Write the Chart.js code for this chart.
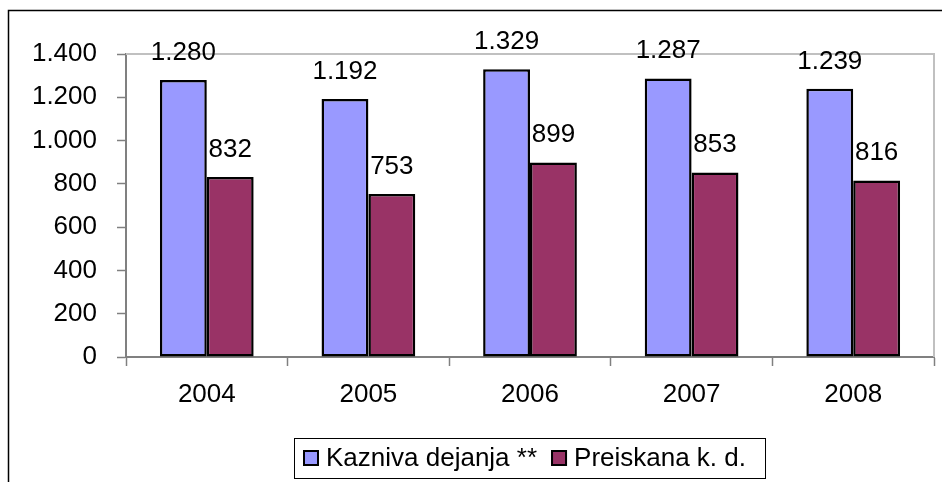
<!DOCTYPE html>
<html>
<head>
<meta charset="utf-8">
<script src="https://cdn.jsdelivr.net/npm/chart.js@4/dist/chart.umd.min.js"></script>
<style>
    html, body { margin: 0; padding: 0; background: #fff; overflow: hidden; }
    canvas { display: block; }
</style>
</head>
<body>
<canvas id="chart" width="942" height="482"></canvas>
<script>
const years = ["2004", "2005", "2006", "2007", "2008"];
const kaznivaDejanja = [1280, 1192, 1329, 1287, 1239];
const preiskanaKD = [832, 753, 899, 853, 816];
const seriesNames = ["Kazniva dejanja **", "Preiskana k. d."];
const seriesColors = ["#9999ff", "#993366"];
const yMin = 0;
const yMax = 1400;
const yStep = 200;

const FONT = 'Arial, "Liberation Sans", sans-serif';
const FONT_SIZE = 26;

function formatNumber(v) {
    // slovene style thousands separator
    return String(v).replace(/\B(?=(\d{3})+(?!\d))/g, ".");
}

// frame round the whole chart + plot area border
const framePlugin = {
    id: "frame",
    beforeDraw(chart) {
        const ctx = chart.ctx;
        ctx.save();
        ctx.fillStyle = "#fff";
        ctx.fillRect(0, 0, chart.width, chart.height);
        ctx.restore();
    },
    beforeDatasetsDraw(chart) {
        const ctx = chart.ctx;
        const a = chart.chartArea;
        ctx.save();
        ctx.strokeStyle = "#c0c0c0";
        ctx.lineWidth = 2;
        ctx.beginPath();
        ctx.moveTo(a.left, a.top);
        ctx.lineTo(a.right, a.top);
        ctx.lineTo(a.right, a.bottom);
        ctx.stroke();
        ctx.restore();
    },
    afterDraw(chart) {
        const ctx = chart.ctx;
        ctx.save();
        ctx.strokeStyle = "#000";
        ctx.lineWidth = 1.5;
        ctx.beginPath();
        ctx.moveTo(8.5, chart.height + 5);
        ctx.lineTo(8.5, 10.5);
        ctx.lineTo(chart.width + 5, 10.5);
        ctx.stroke();
        ctx.restore();
    }
};

// value labels above the bars
const valueLabels = {
    id: "valueLabels",
    afterDatasetsDraw(chart) {
        const ctx = chart.ctx;
        ctx.save();
        ctx.font = FONT_SIZE + "px " + FONT;
        ctx.fillStyle = "#000";
        ctx.textAlign = "center";
        ctx.textBaseline = "alphabetic";
        chart.data.datasets.forEach((ds, i) => {
            const meta = chart.getDatasetMeta(i);
            meta.data.forEach((bar, j) => {
                ctx.fillText(formatNumber(ds.data[j]), bar.x, bar.y - 20);
            });
        });
        ctx.restore();
    }
};

// boxed legend under the axis
const boxLegend = {
    id: "boxLegend",
    afterDraw(chart) {
        const ctx = chart.ctx;
        const a = chart.chartArea;
        const sq = 16, sqGap = 7, itemGap = 14, padL = 9, padR = 19;
        const top = 438, h = 40;
        ctx.save();
        ctx.font = FONT_SIZE + "px " + FONT;
        const items = chart.data.datasets.map((ds) => ({
            label: ds.label,
            color: ds.backgroundColor,
            w: ctx.measureText(ds.label).width
        }));
        let total = padL + padR;
        items.forEach((it, i) => {
            total += sq + sqGap + it.w + (i > 0 ? itemGap : 0);
        });
        const left = Math.round((a.left + a.right) / 2 - total / 2);
        ctx.fillStyle = "#fff";
        ctx.fillRect(left, top, total, h);
        ctx.strokeStyle = "#000";
        ctx.lineWidth = 1;
        ctx.strokeRect(left + 0.5, top + 0.5, total, h);

        let x = left + padL;
        ctx.textAlign = "left";
        ctx.textBaseline = "middle";
        items.forEach((it) => {
            ctx.fillStyle = it.color;
            ctx.fillRect(x, top + 12, sq, sq);
            ctx.strokeStyle = "#000";
            ctx.lineWidth = 2;
            ctx.strokeRect(x + 1, top + 13, sq - 2, sq - 2);
            x += sq + sqGap;
            ctx.fillStyle = "#000";
            ctx.fillText(it.label, x, top + h / 2 + 1);
            x += it.w + itemGap;
        });
        ctx.restore();
    }
};

Chart.defaults.font.family = FONT;
Chart.defaults.font.size = FONT_SIZE;
Chart.defaults.color = "#000";

new Chart(document.getElementById("chart"), {
    type: "bar",
    data: {
        labels: years,
        datasets: [
            {
                label: seriesNames[0],
                data: kaznivaDejanja,
                backgroundColor: seriesColors[0],
                borderColor: "#000",
                borderWidth: 2.5,
                borderSkipped: false
            },
            {
                label: seriesNames[1],
                data: preiskanaKD,
                backgroundColor: seriesColors[1],
                borderColor: "#000",
                borderWidth: 2.5,
                borderSkipped: false
            }
        ]
    },
    options: {
        responsive: false,
        animation: false,
        devicePixelRatio: 1,
        layout: { padding: { left: 0, right: 8, top: 54, bottom: 0 } },
        datasets: {
            bar: { categoryPercentage: 0.58, barPercentage: 1.0 }
        },
        plugins: {
            legend: { display: false },
            tooltip: { enabled: false }
        },
        scales: {
            x: {
                grid: {
                    offset: true,
                    drawOnChartArea: false,
                    drawTicks: true,
                    tickLength: 9,
                    tickColor: "#808080",
                    tickWidth: 1.5
                },
                border: { display: true, color: "#808080", width: 2 },
                ticks: { padding: 13, maxRotation: 0 },
                afterFit(scale) { scale.height = 125; }
            },
            y: {
                min: yMin,
                max: yMax,
                ticks: {
                    stepSize: yStep,
                    padding: 20,
                    callback: (v) => formatNumber(v)
                },
                grid: {
                    drawOnChartArea: false,
                    drawTicks: true,
                    tickLength: 9,
                    tickColor: "#808080",
                    tickWidth: 1.5
                },
                border: { display: true, color: "#808080", width: 2 },
                afterFit(scale) { scale.width = 126; }
            }
        }
    },
    plugins: [framePlugin, valueLabels, boxLegend]
});
</script>
</body>
</html>
